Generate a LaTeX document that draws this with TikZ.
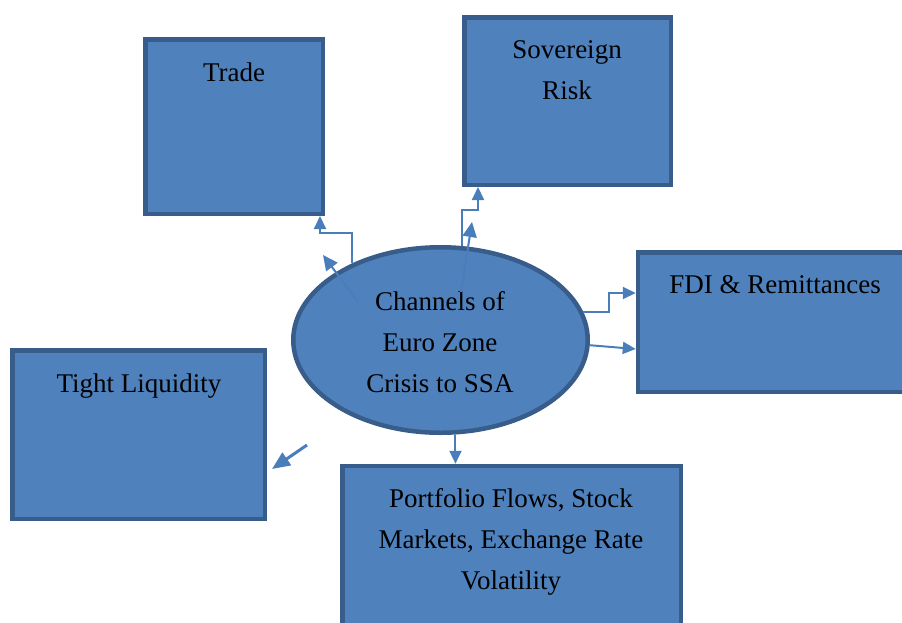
\documentclass[tikz,border=0pt]{standalone}
\usepackage{fontspec}
\setmainfont{Liberation Serif}
\usetikzlibrary{shapes.geometric, arrows.meta, positioning}
\definecolor{boxfill}{HTML}{4F81BD}
\definecolor{boxline}{HTML}{385D8A}
\definecolor{arrowblue}{HTML}{4A7EBB}

\begin{document}
\begin{tikzpicture}[x=1pt, y=-1pt, box node/.style={rectangle, draw=boxline, fill=boxfill, line width=4.5pt}, text node/.style={font=\fontsize{27}{41}\selectfont, align=center, inner sep=0pt}, link/.style={draw=arrowblue, line width=2pt, -{Triangle[length=13pt, width=12pt]}}, big link/.style={link, line width=3pt, -{Triangle[length=18pt, width=15pt]}}]
        \useasboundingbox (0,0) rectangle (902,622);

        \node[box node, minimum width=177.5pt, minimum height=174.5pt] (trade) at (234,126.5) {};
        \node[text node, anchor=base] (tradetext) at (234,81) {Trade};
        \node[box node, minimum width=206.5pt, minimum height=167.5pt] (sov) at (567.5,101) {};
        \node[text node] (sovtext) at (567,70) {Sovereign\\Risk};
        \node[box node, minimum width=270pt, minimum height=139.5pt] (fdi) at (773,322) {};
        \node[text node, anchor=base] (fditext) at (775,293) {FDI \& Remittances};
        \node[box node, minimum width=252.5pt, minimum height=168.5pt] (tight) at (138.5,434.5) {};
        \node[text node, anchor=base] (tighttext) at (139,392) {Tight Liquidity};
        \node[box node, minimum width=338.5pt, minimum height=172pt] (port) at (511.5,552) {};
        \node[text node] (porttext) at (511,542) {Portfolio Flows, Stock\\Markets, Exchange Rate\\Volatility};
        \node[box node, ellipse, minimum width=294.5pt, minimum height=185.5pt] (hub) at (440.5,340) {};
        \node[text node] (hubtext) at (440,342) {Channels of\\Euro Zone\\Crisis to SSA};

        \coordinate (ta) at (358,302);
        \coordinate (tb) at (323,255);
        \coordinate (sa) at (461,292);
        \coordinate (sb) at (472,222);
        \coordinate (la) at (307,445);
        \coordinate (lb) at (272,469);

        \draw[link] (hub.139) -- ++(0,-30) -| ([xshift=86pt]trade.south);
        \draw[link, -{Triangle[length=15pt, width=14pt]}] (ta) -- (tb);
        \draw[link] (hub.77) -- ++(0,-36) -| ([xshift=-89.5pt]sov.south);
        \draw[link, -{Triangle[length=15pt, width=14pt]}] (sa) -- (sb);
        \draw[link] (hub.11) -- ++(26,0) |- ([yshift=29pt]fdi.west);
        \draw[link] (hub.-2) -- ([yshift=-27pt]fdi.west);
        \draw[big link] (la) -- (lb);
        \draw[link] (hub.-81) -- (hub.-81 |- port.north);

    \end{tikzpicture}
\end{document}
